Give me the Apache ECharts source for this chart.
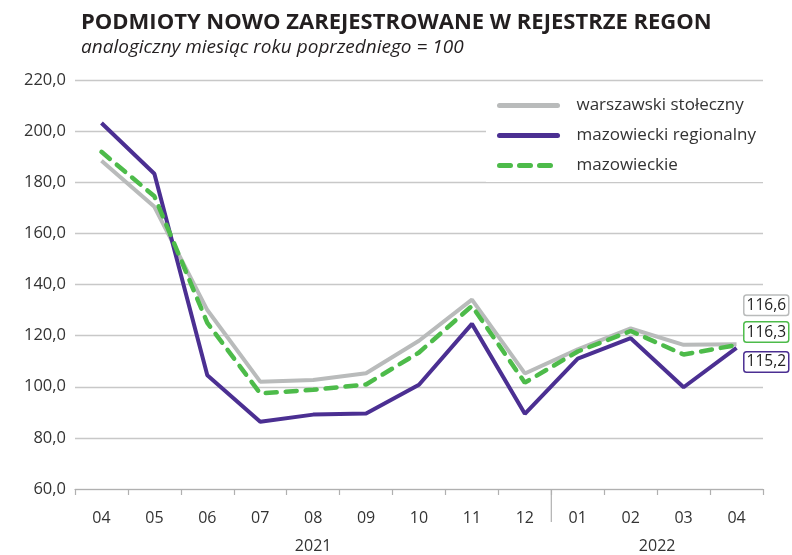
<!DOCTYPE html>
<html>
<head>
<meta charset="utf-8">
<script src="https://cdn.jsdelivr.net/npm/echarts@6/dist/echarts.min.js"></script>
<style>
html,body{margin:0;padding:0;background:#fff;}
#chart{width:792px;height:555px;}
</style>
</head>
<body>
<div id="chart"></div>
<script>
const categories = ['04','05','06','07','08','09','10','11','12','01','02','03','04'];
const years = [{label:'2021', from:0, to:8}, {label:'2022', from:9, to:12}];
const yTicks = {min:60, max:220, interval:20};

const warszawski = [188.4, 170.4, 130.0, 102.0, 102.6, 105.3, 118.0, 134.1, 105.2, 114.6, 122.8, 116.4, 116.6];
const mazowieckiReg = [203.2, 183.3, 104.5, 86.3, 89.1, 89.5, 100.8, 124.6, 89.4, 111.0, 119.0, 99.8, 115.2];
const mazowieckie = [191.9, 174.5, 125.0, 97.4, 98.8, 100.9, 113.4, 131.6, 101.6, 113.8, 121.8, 112.6, 116.3];

const seriesNames = ['warszawski stołeczny', 'mazowiecki regionalny', 'mazowieckie'];
const colors = ['#b9bbbb', '#4b2f92', '#4dbb4a'];
const labelOffsets = [-39, 14, -13];

const fmt = v => v.toFixed(1).replace('.', ',');
const FONT = '"Open Sans", "Noto Sans", sans-serif';

const allData = [warszawski, mazowieckiReg, mazowieckie];

const chart = echarts.init(document.getElementById('chart'), null, {renderer: 'canvas'});
const option = {
  animation: false,
  backgroundColor: '#fff',
  title: {
    text: 'PODMIOTY NOWO ZAREJESTROWANE W REJESTRZE REGON',
    subtext: 'analogiczny miesiąc roku poprzedniego = 100',
    left: 76,
    top: 7,
    itemGap: 4,
    textStyle: {fontFamily: FONT, fontSize: 22, fontWeight: 'bold', color: '#231f20'},
    subtextStyle: {fontFamily: FONT, fontSize: 19, fontStyle: 'italic', color: '#231f20'}
  },
  legend: {
    orient: 'vertical',
    left: 486,
    top: 89,
    padding: [8, 30, 8, 11],
    backgroundColor: '#fff',
    itemWidth: 58,
    itemHeight: 10,
    itemGap: 13,
    itemStyle: {opacity: 0},
    lineStyle: {width: 5, cap: 'round'},
    textStyle: {fontFamily: FONT, fontSize: 17, color: '#333', padding: [0, 0, 0, 14]},
    data: seriesNames
  },
  grid: {left: 75, right: 29, top: 80, bottom: 66, containLabel: false},
  xAxis: {
    type: 'category',
    data: categories,
    boundaryGap: true,
    axisLine: {lineStyle: {color: '#b0b0b0', width: 1.2}},
    axisTick: {show: true, length: 6, lineStyle: {color: '#b0b0b0', width: 1.2}},
    axisLabel: {fontFamily: FONT, fontSize: 16, color: '#333', margin: 21}
  },
  yAxis: {
    type: 'value',
    min: yTicks.min, max: yTicks.max, interval: yTicks.interval,
    axisLine: {show: false},
    axisTick: {show: false},
    axisLabel: {fontFamily: FONT, fontSize: 16.5, color: '#333', margin: 9, formatter: v => fmt(v)},
    splitLine: {lineStyle: {color: '#c8c8c8', width: 1.3}}
  },
  series: allData.map((arr, idx) => ({
    name: seriesNames[idx],
    type: 'line',
    data: arr,
    symbol: 'none',
    z: idx === 2 ? 4 : (idx === 1 ? 3 : 2),
    lineStyle: {
      color: colors[idx],
      width: idx === 2 ? 4.5 : 4,
      type: idx === 2 ? [11, 9] : 'solid',
      cap: idx === 2 ? 'round' : 'butt'
    },
    itemStyle: {color: colors[idx]},
    endLabel: {
      show: true,
      distance: 8,
      offset: [0, labelOffsets[idx]],
      formatter: p => fmt(p.value),
      color: '#222',
      fontSize: 15.5,
      fontFamily: FONT,
      backgroundColor: '#fff',
      borderColor: colors[idx],
      borderWidth: 1.5,
      borderRadius: 2,
      padding: [2, 2, 1, 2]
    }
  }))
};
chart.setOption(option);

// year separator & year labels derived from the axis
const px = i => chart.convertToPixel({xAxisIndex: 0}, i);
const baseY = chart.convertToPixel({yAxisIndex: 0}, yTicks.min);
const step = px(1) - px(0);
const sepX = px(years[1].from) - step / 2;
const graphics = [{
  type: 'line',
  shape: {x1: sepX, y1: baseY, x2: sepX, y2: baseY + 33},
  style: {stroke: '#b0b0b0', lineWidth: 1.2},
  silent: true
}];
years.forEach(y => {
  const cx = (px(y.from) + px(y.to)) / 2;
  graphics.push({
    type: 'text',
    x: cx, y: baseY + 57,
    style: {text: y.label, fill: '#333', font: '16px ' + FONT, align: 'center', verticalAlign: 'middle'},
    silent: true
  });
});
chart.setOption({graphic: graphics});
</script>
</body>
</html>
